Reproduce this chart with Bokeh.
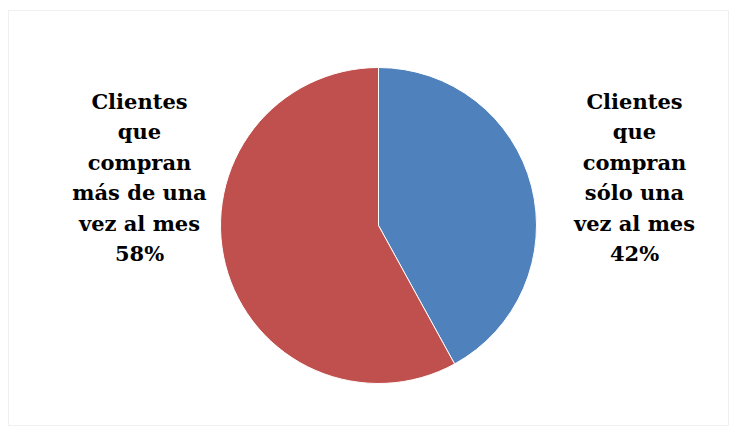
from math import pi
from bokeh.plotting import figure
from bokeh.models import ColumnDataSource, Range1d
from bokeh.core.properties import value
from bokeh.embed import file_html
from bokeh.resources import INLINE

categories = ["Clientes\nque\ncompran\nsólo una\nvez al mes", "Clientes\nque\ncompran\nmás de una\nvez al mes"]
percents = [42, 58]
colors = ["#4F81BD", "#C0504D"]

W, H = 729, 426
cx, cy, r = 378, H - 225, 158

total = sum(percents)
starts, ends = [], []
acc = 0
for v in percents:
    starts.append(pi / 2 - acc / total * 2 * pi)
    acc += v
    ends.append(pi / 2 - acc / total * 2 * pi)

src = ColumnDataSource(dict(start=starts, end=ends, color=colors))

p = figure(width=W, height=H, output_backend="svg", toolbar_location=None,
           x_range=Range1d(0, W), y_range=Range1d(0, H), min_border=0)
p.axis.visible = False
p.grid.visible = False
p.outline_line_color = None
p.background_fill_color = "white"

# faint chart-area border
p.quad(left=[8], right=[728], bottom=[H - 425], top=[H - 10], fill_color=None,
       line_color="#f0f0f0", line_width=1)

p.wedge(x=cx, y=cy, radius=r, start_angle="start", end_angle="end",
        direction="clock", fill_color="color", line_color="white", line_width=1,
        source=src)

label_texts = [f"{c}\n{v}%" for c, v in zip(categories, percents)]
lab = ColumnDataSource(dict(x=[634, 139], y=[H - 177, H - 177], text=label_texts))
p.text(x="x", y="y", text="text", source=lab, text_align="center",
       text_baseline="middle", text_font=value("DejaVu Serif"),
       text_font_style="bold", text_font_size="21px", text_line_height=1.22,
       text_color="black")

open("out.html", "w").write(file_html(p, INLINE))
